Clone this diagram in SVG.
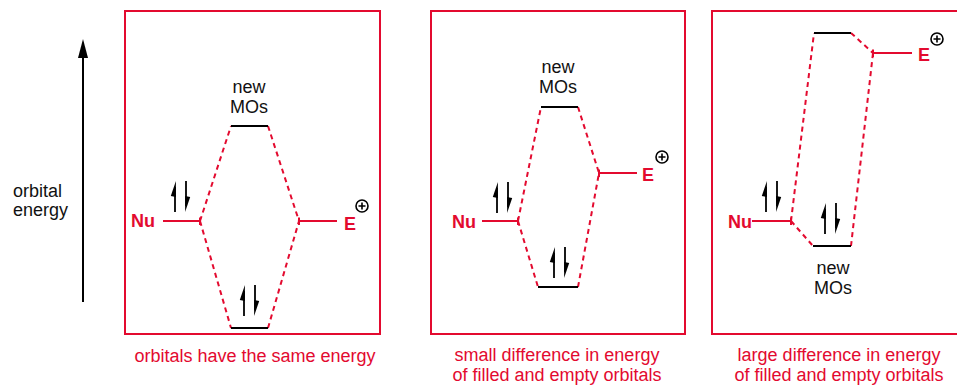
<svg xmlns="http://www.w3.org/2000/svg" width="957" height="386" viewBox="0 0 957 386">
<style>
.panel{fill:none;stroke:#e30a2f;stroke-width:2}
.lvl{fill:none;stroke:#e30a2f;stroke-width:2}
.mo{fill:none;stroke:#000;stroke-width:2}
.dash{fill:none;stroke:#e30a2f;stroke-width:2;stroke-dasharray:5 4}
.lbl{font-family:"Liberation Sans",Arial,sans-serif;font-size:18px;fill:#111}
.cap{font-family:"Liberation Sans",Arial,sans-serif;font-size:18px;fill:#e30a2f;text-anchor:middle}
.nu{font-family:"Liberation Sans",Arial,sans-serif;font-size:18px;font-weight:bold;fill:#e30a2f}
.mid{text-anchor:middle}
.pl{fill:none;stroke:#000;stroke-width:1.6}
</style>
<defs>
<g id="pair">
<path d="M0,6 V31" stroke="#000" stroke-width="1.8"/>
<polygon points="0.9,0 0.9,16 -4.2,15" fill="#000"/>
<path d="M11,0 V25" stroke="#000" stroke-width="1.8"/>
<polygon points="10.1,31 10.1,15 15.2,16" fill="#000"/>
</g>
<g id="plus">
<circle cx="0" cy="0" r="6" class="pl"/>
<path d="M-3.5,0 H3.5 M0,-3.5 V3.5" class="pl"/>
</g>
</defs>

<g id="axis">
<path d="M83,302 V52" stroke="#000" stroke-width="2"/>
<polygon points="83,39 88,58 78,58" fill="#000"/>
<text class="lbl" x="13" y="197">orbital</text>
<text class="lbl" x="13" y="216">energy</text>
</g>

<g id="panel1">
<rect class="panel" x="125" y="11" width="255" height="323"/>
<text class="cap" x="255" y="362">orbitals have the same energy</text>
</g>
<g id="panel2">
<rect class="panel" x="431" y="11" width="254" height="323"/>
<text class="cap" x="557" y="361">small difference in energy</text>
<text class="cap" x="557" y="381">of filled and empty orbitals</text>
</g>
<g id="panel3">
<rect class="panel" x="712" y="11" width="260" height="323"/>
<text class="cap" x="839" y="361">large difference in energy</text>
<text class="cap" x="839" y="381">of filled and empty orbitals</text>
</g>

<g id="connectors">
<path class="dash" d="M200,221 L231,126 M200,221 L231,328 M268,126 L299,221 M268,328 L299,221"/>
<path class="dash" d="M518,221 L541,107 M518,221 L538,287 M578,107 L599,173 M578,287 L599,173"/>
<path class="dash" d="M791,221 L814,33 M791,221 L813,246 M851,33 L873,53 M851,246 L873,53"/>
</g>

<g id="nu1">
<text class="nu" x="131" y="227">Nu</text>
<path class="lvl" d="M163,221 H200 M200,217.5 V225"/>
<use href="#pair" x="175" y="181"/>
</g>
<g id="e1">
<path class="lvl" d="M299,221 H337 M299,217.5 V225"/>
<text class="nu" x="344" y="230">E</text>
<use href="#plus" x="362" y="206"/>
</g>
<g id="mo1top">
<path class="mo" d="M231,126 H268"/>
<text class="lbl mid" x="249" y="93">new</text>
<text class="lbl mid" x="249" y="113">MOs</text>
</g>
<g id="mo1bot">
<path class="mo" d="M231,328 H268"/>
<use href="#pair" x="244" y="285"/>
</g>

<g id="nu2">
<text class="nu" x="452" y="228">Nu</text>
<path class="lvl" d="M482,221 H518 M518,217.5 V225"/>
<use href="#pair" x="497" y="182"/>
</g>
<g id="e2">
<path class="lvl" d="M599,173 H637 M599,169.5 V177"/>
<text class="nu" x="642" y="181">E</text>
<use href="#plus" x="662" y="157"/>
</g>
<g id="mo2top">
<path class="mo" d="M541,107 H578"/>
<text class="lbl mid" x="558" y="73">new</text>
<text class="lbl mid" x="558" y="93">MOs</text>
</g>
<g id="mo2bot">
<path class="mo" d="M538,287 H578"/>
<use href="#pair" x="554" y="247"/>
</g>

<g id="nu3">
<text class="nu" x="728" y="228">Nu</text>
<path class="lvl" d="M752,221 H791 M791,217.5 V225"/>
<use href="#pair" x="766" y="181"/>
</g>
<g id="e3">
<path class="lvl" d="M873,53 H912 M873,49.5 V57"/>
<text class="nu" x="918" y="61">E</text>
<use href="#plus" x="937" y="39"/>
</g>
<g id="mo3top">
<path class="mo" d="M814,33 H851"/>
</g>
<g id="mo3bot">
<path class="mo" d="M813,246 H851"/>
<use href="#pair" x="825" y="203"/>
<text class="lbl mid" x="833" y="274">new</text>
<text class="lbl mid" x="833" y="294">MOs</text>
</g>
</svg>
